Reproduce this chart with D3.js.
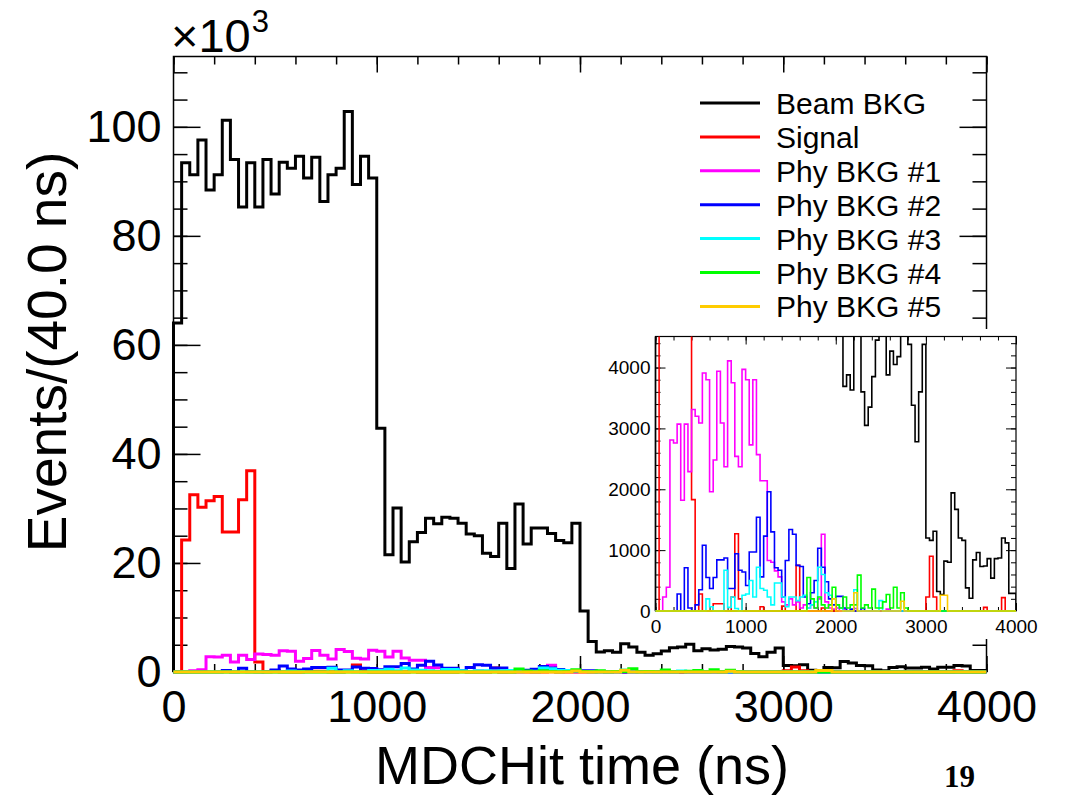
<!DOCTYPE html>
<html>
<head>
<meta charset="utf-8">
<script src="https://cdn.jsdelivr.net/npm/d3@7"></script>
<style>
  html, body { margin: 0; padding: 0; background: #fff; }
  svg { display: block; }
  text { font-family: "Liberation Sans", Arial, Helvetica, sans-serif; fill: #000; }
</style>
</head>
<body>
<svg id="chart" width="1066" height="795"></svg>
<script>
// ---------------- DATA (100 bins of 40 ns, 0–4000 ns) ----------------
const binWidth = 40;
const nBins = 100;
const seriesNames = ["Beam BKG", "Signal", "Phy BKG #1", "Phy BKG #2", "Phy BKG #3", "Phy BKG #4", "Phy BKG #5"];
const seriesColors = ["#000000", "#ff0000", "#ff00ff", "#0000ff", "#00ffff", "#00ff00", "#ffcc00"];

const beamBkg = [
  64000, 93400, 91200, 97600, 88400, 91200, 101200, 94000, 85300, 93400,
  85300, 94000, 87700, 93500, 92400, 94600, 90600, 94400, 86300, 91200,
  92400, 102800, 89400, 94600, 90600, 44700, 21500, 30100, 20200, 23900,
  25600, 28200, 27200, 28400, 28200, 27300, 25300, 25000, 21800, 21200,
  27300, 19000, 30800, 23500, 26400, 26400, 25400, 24100, 23700, 27300,
  11200, 5600, 3690, 3880, 3630, 5200, 4600, 3600, 3050, 3350,
  3850, 4450, 4600, 5100, 3880, 4270, 4050, 4180, 4700, 4600,
  4380, 3380, 2780, 3600, 4380, 1200, 1160, 1310, 320, 270,
  820, 800, 1940, 1670, 1200, 1160, 380, 210, 840, 960,
  730, 740, 860, 540, 860, 870, 1200, 1120, 290, 290
];
const signal = [
  0, 24200, 32500, 30200, 31400, 32200, 25700, 25700, 31600, 36900,
  1830, 0, 280, 0, 0, 0, 120, 120, 120, 0,
  0, 230, 1270, 200, 0, 0, 0, 0, 0, 70,
  0, 0, 0, 0, 0, 80, 0, 0, 0, 750,
  0, 0, 0, 0, 0, 0, 50, 0, 0, 0,
  0, 0, 0, 0, 0, 0, 0, 0, 0, 0,
  0, 0, 0, 0, 0, 0, 0, 0, 0, 0,
  0, 0, 0, 0, 0, 230, 900, 230, 0, 0,
  0, 0, 0, 0, 0, 0, 0, 0, 0, 0,
  0, 60, 0, 0, 0, 0, 220, 0, 0, 0
];
const phyBkg1 = [
  0, 0, 230, 390, 2810, 2760, 3070, 1820, 3070, 2290,
  3310, 3200, 3090, 3910, 3800, 1960, 2480, 3940, 3090, 2370,
  4110, 3750, 2540, 2370, 3970, 3800, 2730, 3800, 2570, 2140,
  2140, 830, 800, 660, 560, 150, 100, 200, 100, 150,
  50, 100, 50, 100, 50, 200, 1260, 150, 50, 30,
  50, 0, 30, 0, 0, 40, 0, 0, 0, 0,
  0, 0, 0, 0, 30, 0, 0, 0, 0, 0,
  0, 0, 0, 0, 0, 0, 0, 0, 0, 0,
  0, 0, 0, 0, 0, 0, 0, 0, 0, 0,
  0, 0, 0, 0, 0, 0, 0, 0, 0, 0
];
const phyBkg2 = [
  0, 0, 0, 0, 0, 0, 280, 0, 710, 50,
  0, 100, 350, 1080, 550, 370, 550, 840, 840, 870,
  370, 370, 940, 670, 640, 420, 970, 970, 1540, 560,
  1230, 1960, 1300, 710, 670, 230, 830, 1340, 1260, 750,
  730, 230, 120, 300, 500, 1030, 720, 480, 200, 100,
  240, 240, 50, 0, 30, 0, 0, 40, 0, 0,
  0, 0, 0, 0, 0, 0, 0, 0, 0, 0,
  0, 0, 0, 0, 0, 0, 0, 0, 0, 0,
  0, 0, 0, 0, 0, 0, 0, 0, 0, 0,
  0, 0, 0, 0, 0, 0, 0, 0, 0, 0
];
const phyBkg3 = [
  0, 0, 0, 0, 0, 0, 0, 0, 0, 0,
  0, 0, 0, 0, 200, 70, 0, 0, 0, 670,
  60, 230, 40, 0, 260, 280, 500, 230, 720, 370,
  340, 230, 100, 460, 460, 230, 70, 230, 230, 170,
  230, 260, 50, 100, 150, 720, 600, 300, 260, 200,
  100, 50, 0, 0, 0, 350, 0, 0, 0, 0,
  0, 0, 170, 0, 0, 0, 0, 0, 0, 0,
  0, 0, 0, 0, 0, 0, 0, 0, 0, 0,
  0, 0, 0, 0, 0, 0, 0, 0, 0, 0,
  0, 0, 0, 0, 0, 0, 0, 0, 0, 0
];
const phyBkg4 = [
  0, 0, 0, 0, 0, 0, 0, 0, 0, 0,
  0, 0, 0, 0, 0, 0, 0, 0, 0, 0,
  0, 0, 0, 0, 0, 0, 0, 0, 0, 0,
  0, 0, 0, 0, 0, 0, 0, 0, 0, 0,
  0, 0, 550, 200, 50, 230, 100, 50, 100, 390,
  100, 50, 230, 50, 100, 100, 590, 50, 100, 50,
  360, 50, 50, 150, 270, 50, 390, 50, 300, 50,
  0, 0, 0, 0, 0, 0, 0, 0, 0, 0,
  0, 0, 0, 0, 0, 0, 0, 0, 0, 0,
  0, 0, 0, 0, 0, 0, 0, 0, 0, 0
];
const phyBkg5 = [
  0, 0, 0, 0, 0, 0, 0, 0, 0, 0,
  0, 0, 0, 0, 0, 0, 0, 0, 0, 0,
  0, 0, 0, 0, 0, 0, 0, 0, 0, 0,
  0, 0, 0, 0, 0, 0, 0, 0, 0, 0,
  0, 0, 0, 0, 0, 0, 0, 0, 0, 200,
  0, 0, 0, 0, 0, 300, 0, 0, 0, 0,
  0, 0, 0, 0, 0, 0, 0, 0, 160, 0,
  0, 0, 0, 0, 0, 0, 0, 0, 0, 260,
  260, 0, 0, 0, 0, 0, 0, 0, 0, 0,
  0, 0, 0, 0, 0, 0, 0, 0, 0, 0
];
const allSeries = [beamBkg, signal, phyBkg1, phyBkg2, phyBkg3, phyBkg4, phyBkg5];

const mainXTicks = [0, 1000, 2000, 3000, 4000];
const mainYTicks = [0, 20000, 40000, 60000, 80000, 100000];
const insetXTicks = [0, 1000, 2000, 3000, 4000];
const insetYTicks = [0, 1000, 2000, 3000, 4000];
const xTitle = "MDCHit time (ns)";
const yTitle = "Events/(40.0 ns)";

// ---------------- DRAWING ----------------
const svg = d3.select("#chart");
svg.append("rect").attr("width", 1066).attr("height", 795).attr("fill", "#fff");

function histPoints(vals) {
  const pts = [[0, 0]];
  vals.forEach((v, i) => {
    pts.push([i * binWidth, v]);
    pts.push([(i + 1) * binWidth, v]);
  });
  pts.push([nBins * binWidth, 0]);
  return pts;
}

function drawPanel(g, cfg) {
  const x = d3.scaleLinear().domain([0, 4000]).range([cfg.x0, cfg.x1]);
  const y = d3.scaleLinear().domain([0, cfg.ymax]).range([cfg.y0, cfg.y1]);
  const clipId = "clip-" + cfg.id;
  svg.append("defs").append("clipPath").attr("id", clipId)
    .append("rect").attr("x", cfg.x0 - 2).attr("y", cfg.y1)
    .attr("width", cfg.x1 - cfg.x0 + 2).attr("height", cfg.y0 - cfg.y1 + cfg.clipPadBottom);

  // frame and ticks first (histograms are drawn over them, as in ROOT)
  g.append("rect").attr("x", cfg.x0).attr("y", cfg.y1)
    .attr("width", cfg.x1 - cfg.x0).attr("height", cfg.y0 - cfg.y1)
    .attr("fill", "none").attr("stroke", "#000").attr("stroke-width", cfg.frameW);

  const ax = g.append("g");
  const tickStyle = sel => {
    sel.select(".domain").remove();
    sel.selectAll("line").attr("stroke", "#000").attr("stroke-width", cfg.tickW);
    sel.selectAll("text").style("font-size", cfg.fs + "px").style("fill", "#000");
  };
  const xMinor = d3.range(0, 4001, 200);
  const yMinor = d3.range(0, cfg.ymax + 1, cfg.yMinorStep);
  ax.append("g").attr("transform", `translate(0,${cfg.y0})`)
    .call(d3.axisBottom(x).tickValues(xMinor).tickSize(-cfg.xMinorLen).tickFormat(""))
    .call(tickStyle);
  ax.append("g").attr("transform", `translate(0,${cfg.y0})`)
    .call(d3.axisBottom(x).tickValues(cfg.xTicks).tickSize(-cfg.xMajorLen).tickPadding(cfg.xPad).tickFormat(d3.format("d")))
    .call(tickStyle);
  ax.append("g").attr("transform", `translate(0,${cfg.y1})`)
    .call(d3.axisTop(x).tickValues(xMinor).tickSize(-cfg.xMinorLen).tickFormat(""))
    .call(tickStyle);
  ax.append("g").attr("transform", `translate(0,${cfg.y1})`)
    .call(d3.axisTop(x).tickValues(cfg.xTicks).tickSize(-cfg.xMajorLen).tickFormat(""))
    .call(tickStyle);
  ax.append("g").attr("transform", `translate(${cfg.x0},0)`)
    .call(d3.axisLeft(y).tickValues(yMinor).tickSize(-cfg.yMinorLen).tickFormat(""))
    .call(tickStyle);
  ax.append("g").attr("transform", `translate(${cfg.x0},0)`)
    .call(d3.axisLeft(y).tickValues(cfg.yTicks).tickSize(-cfg.yMajorLen).tickPadding(cfg.yPad).tickFormat(cfg.yFormat))
    .call(tickStyle);
  ax.append("g").attr("transform", `translate(${cfg.x1},0)`)
    .call(d3.axisRight(y).tickValues(yMinor).tickSize(-cfg.yMinorLen).tickFormat(""))
    .call(tickStyle);
  ax.append("g").attr("transform", `translate(${cfg.x1},0)`)
    .call(d3.axisRight(y).tickValues(cfg.yTicks).tickSize(-cfg.yMajorLen).tickFormat(""))
    .call(tickStyle);

  const line = d3.line().x(d => x(d[0])).y(d => y(d[1]));
  const hg = g.append("g").attr("clip-path", `url(#${clipId})`);
  allSeries.forEach((vals, k) => {
    hg.append("path").attr("d", line(histPoints(vals)))
      .attr("fill", "none").attr("stroke", seriesColors[k])
      .attr("stroke-width", cfg.lw).attr("stroke-linejoin", "miter").attr("stroke-linecap", "butt");
  });
  return { x, y };
}

// main panel
const mainG = svg.append("g");
drawPanel(mainG, {
  id: "main", x0: 173.5, x1: 986.5, y0: 672, y1: 56.5, ymax: 112900,
  lw: 3, tickW: 1.5, frameW: 1.5, fs: 45, clipPadBottom: 2,
  xTicks: mainXTicks, yTicks: mainYTicks, yMinorStep: 5000,
  xMajorLen: 16, xMinorLen: 8, yMajorLen: 27, yMinorLen: 14,
  xPad: 18, yPad: 12, yFormat: d => d3.format("d")(d / 1000)
});

// axis titles
svg.append("text").attr("x", 582).attr("y", 784).attr("text-anchor", "middle")
  .style("font-size", "54px").text(xTitle);
svg.append("text").attr("transform", "translate(66,352) rotate(-90)").attr("text-anchor", "middle")
  .style("font-size", "55px").text(yTitle);

// exponent label
const expT = svg.append("text").attr("x", 171).attr("y", 52).style("font-size", "47px").text("\u00d710");
const expW = expT.node().getComputedTextLength();
svg.append("text").attr("x", 171 + expW + 1).attr("y", 32).style("font-size", "31px").text("3");

// legend
const legX0 = 700, legX1 = 760, legTextX = 776, legY0 = 103, legDy = 33.9;
const leg = svg.append("g");
seriesNames.forEach((name, k) => {
  const yy = legY0 + k * legDy;
  leg.append("line").attr("x1", legX0).attr("x2", legX1).attr("y1", yy).attr("y2", yy)
    .attr("stroke", seriesColors[k]).attr("stroke-width", 3);
  leg.append("text").attr("x", legTextX).attr("y", yy + 11).style("font-size", "30px").text(name);
});

// inset pad
const insetG = svg.append("g");
insetG.append("rect").attr("x", 598).attr("y", 329).attr("width", 424).attr("height", 310).attr("fill", "#fff");
drawPanel(insetG, {
  id: "inset", x0: 655.5, x1: 1016, y0: 611, y1: 336.5, ymax: 4510,
  lw: 1.6, tickW: 1, frameW: 1.2, fs: 19, clipPadBottom: 1,
  xTicks: insetXTicks, yTicks: insetYTicks, yMinorStep: 200,
  xMajorLen: 8, xMinorLen: 4, yMajorLen: 10, yMinorLen: 5,
  xPad: 9, yPad: 5, yFormat: d3.format("d")
});

// slide page number
svg.append("text").attr("x", 944).attr("y", 787)
  .style("font-family", "'Liberation Serif', 'DejaVu Serif', serif")
  .style("font-weight", "bold").style("font-size", "31px").text("19");
</script>
</body>
</html>
